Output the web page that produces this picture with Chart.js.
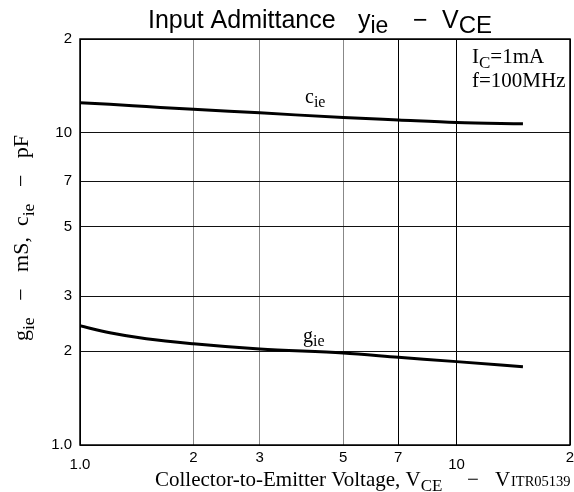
<!DOCTYPE html>
<html>
<head>
<meta charset="utf-8">
<script src="https://cdn.jsdelivr.net/npm/chart.js@4"></script>
<style>
  html, body { margin: 0; padding: 0; background: #fff; }
  #wrap { width: 574px; height: 492px; }
</style>
</head>
<body>
<div id="wrap"><canvas id="c"></canvas></div>
<script>
// collector-emitter voltage, V
const vce = [1, 1.2, 1.5, 2, 3, 5, 7, 10, 15];
// input conductance g_ie, mS
const gie = [2.41, 2.29, 2.19, 2.11, 2.03, 1.97, 1.91, 1.85, 1.78];
// input capacitance c_ie, pF
const cie = [12.5, 12.35, 12.15, 11.9, 11.6, 11.2, 11.0, 10.8, 10.7];

const xTicks = [1, 2, 3, 5, 7, 10, 20];
const yTicks = [1, 2, 3, 5, 7, 10, 20];
const tickText = { 1: '1.0', 20: '2' };

const SANS = '"Liberation Sans", Arial, sans-serif';
const SERIF = '"Liberation Serif", "Times New Roman", serif';

// draw a run of text pieces, some of them subscripts
const drawRuns = (ctx, runs, x, y, size, family) => {
    let cx = x;
    runs.forEach((r) => {
        const s = r.size || (r.sub ? size * 0.8 : size);
        ctx.font = s + 'px ' + family;
        if (r.at !== undefined) cx = r.at;
        ctx.fillText(r.t, cx, y + (r.sub ? (r.drop || size * 0.28) : 0));
        cx += ctx.measureText(r.t).width;
    });
    return cx - x;
};

const runsWidth = (ctx, runs, size, family) => {
    let w = 0;
    runs.forEach((r) => {
        const s = r.size || (r.sub ? size * 0.8 : size);
        ctx.font = s + 'px ' + family;
        w += ctx.measureText(r.t).width;
    });
    return w;
};

const decor = {
    id: 'decor',
    afterDraw(chart) {
        const ctx = chart.ctx;
        const a = chart.chartArea;
        const xs = chart.scales.x;
        ctx.save();
        ctx.fillStyle = '#000';
        ctx.strokeStyle = '#000';
        ctx.lineWidth = 1.5;
        ctx.strokeRect(a.left, a.top, a.right - a.left, a.bottom - a.top);

        // title
        ctx.textBaseline = 'alphabetic';
        ctx.textAlign = 'left';
        drawRuns(ctx, [
            { t: 'Input Admittance' },
            { t: 'y', at: 358 },
            { t: 'ie', sub: true, size: 23, drop: 5 },
            { t: '\u2212', at: 413 },
            { t: 'V', at: 442 },
            { t: 'CE', sub: true, size: 24, drop: 5 },
        ], 148, 28, 25, SANS);

        // x tick labels
        ctx.font = '15px ' + SANS;
        ctx.textAlign = 'center';
        xTicks.forEach((v) => {
            const px = xs.getPixelForValue(v);
            const lbl = tickText[v] || String(v);
            const py = (v === 1 || v === 10) ? 469 : 462;
            ctx.fillText(lbl, px, py);
        });

        // x axis title
        ctx.textAlign = 'left';
        drawRuns(ctx, [
            { t: 'Collector-to-Emitter Voltage, V' },
            { t: 'CE', sub: true, size: 17, drop: 5 },
            { t: '\u2212', at: 467 },
            { t: 'V', at: 495 },
        ], 155, 486, 21, SERIF);
        ctx.font = '14.5px ' + SERIF;
        ctx.fillText('ITR05139', 511, 486);

        // y axis title
        ctx.save();
        ctx.translate(28, 238);
        ctx.rotate(-Math.PI / 2);
        const yt = [
            { t: 'g' },
            { t: 'ie', sub: true },
            { t: '   \u2212   mS,  c' },
            { t: 'ie', sub: true },
            { t: '   \u2212   pF' },
        ];
        const yw = runsWidth(ctx, yt, 22, SERIF);
        drawRuns(ctx, yt, -yw / 2, 0, 22, SERIF);
        ctx.restore();

        // conditions
        drawRuns(ctx, [{ t: 'I' }, { t: 'C', sub: true, size: 17, drop: 5 }, { t: '=1mA' }], 472, 63, 21, SERIF);
        drawRuns(ctx, [{ t: 'f=100MHz' }], 472, 87, 21, SERIF);

        // curve labels
        drawRuns(ctx, [{ t: 'c' }, { t: 'ie', sub: true, size: 16, drop: 4 }], 305, 103, 20, SERIF);
        drawRuns(ctx, [{ t: 'g' }, { t: 'ie', sub: true, size: 16, drop: 4 }], 303, 342, 20, SERIF);
        ctx.restore();
    },
};

const toPts = (ys) => vce.map((v, i) => ({ x: v, y: ys[i] }));

new Chart(document.getElementById('c'), {
    type: 'line',
    data: {
        datasets: [
            { label: 'cie', data: toPts(cie), borderColor: '#000', borderWidth: 3, pointRadius: 0, cubicInterpolationMode: 'monotone' },
            { label: 'gie', data: toPts(gie), borderColor: '#000', borderWidth: 3, pointRadius: 0, cubicInterpolationMode: 'monotone' },
        ],
    },
    options: {
        responsive: true,
        maintainAspectRatio: false,
        animation: false,
        layout: { padding: { left: 0, right: 4, top: 39, bottom: 0 } },
        plugins: {
            legend: { display: false },
            tooltip: { enabled: false },
        },
        scales: {
            x: {
                type: 'logarithmic',
                min: 1,
                max: 20,
                afterBuildTicks: (s) => { s.ticks = xTicks.map((v) => ({ value: v })); },
                afterFit: (s) => { s.height = 47; },
                ticks: { display: false },
                border: { display: false },
                grid: {
                    drawTicks: false,
                    lineWidth: 1,
                    color: (c) => ([2, 3, 5].includes(c.tick && c.tick.value) ? '#888' : '#000'),
                },
            },
            y: {
                type: 'logarithmic',
                min: 1,
                max: 20,
                afterBuildTicks: (s) => { s.ticks = yTicks.map((v) => ({ value: v })); },
                afterFit: (s) => { s.width = 80; },
                border: { display: false },
                grid: { drawTicks: false, lineWidth: 1, color: '#111' },
                ticks: {
                    padding: 8,
                    color: '#000',
                    font: { family: SANS, size: 15 },
                    callback: (v) => tickText[v] || String(v),
                },
            },
        },
    },
    plugins: [decor],
});
</script>
</body>
</html>
